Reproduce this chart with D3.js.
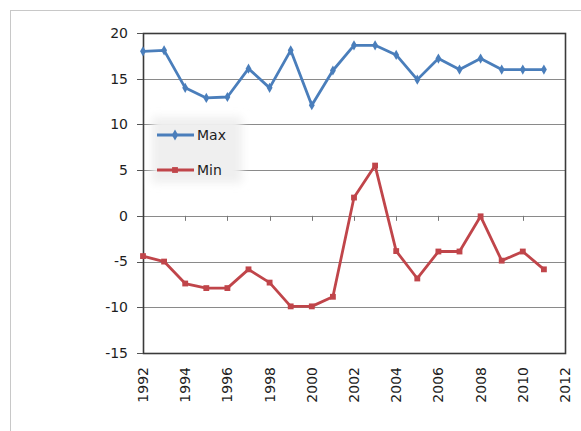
<!DOCTYPE html>
<meta charset="utf-8">
<style>
body { margin: 0; background: #fff; }
svg { display: block; }
.tick-label { font: 14px "DejaVu Sans", sans-serif; fill: #1e1e1e; }
.legend-label { font: 14px "DejaVu Sans", sans-serif; fill: #1e1e1e; }
</style>
<script src="https://cdn.jsdelivr.net/npm/d3@7"></script>
<body>
<svg width="581" height="431"></svg>
</body>
<script>

// data
var years = [1992, 1993, 1994, 1995, 1996, 1997, 1998, 1999, 2000, 2001,
             2002, 2003, 2004, 2005, 2006, 2007, 2008, 2009, 2010, 2011];
var maxValues = [18, 18.1, 14, 12.9, 13, 16.1, 14, 18.1, 12.1, 15.9,
                 18.65, 18.65, 17.6, 14.9, 17.2, 16, 17.2, 16, 16, 16];
var minValues = [-4.4, -5, -7.4, -7.9, -7.9, -5.85, -7.3, -9.9, -9.9, -8.85,
                 2, 5.5, -3.85, -6.85, -3.9, -3.9, -0.05, -4.9, -3.9, -5.85];
var xTicks = [1992, 1994, 1996, 1998, 2000, 2002, 2004, 2006, 2008, 2010, 2012];
var yTicks = [-15, -10, -5, 0, 5, 10, 15, 20];

var svg = d3.select("svg");

var plotLeft = 143, plotRight = 565, plotTop = 33, plotBottom = 353;

var x = d3.scaleLinear().domain([1992, 2012]).range([plotLeft, plotRight]);
var y = d3.scaleLinear().domain([-15, 20]).range([plotBottom, plotTop]);

// outer chart frame
svg.append("rect")
    .attr("x", 10.5).attr("y", 10.5)
    .attr("width", 600).attr("height", 440)
    .attr("fill", "#fff")
    .attr("stroke", "#c8c8c8");

// gridlines
svg.append("g").selectAll("line")
  .data(yTicks.filter(function(d) { return d > -15 && d < 20; }))
  .enter().append("line")
    .attr("x1", plotLeft).attr("x2", plotRight)
    .attr("y1", function(d) { return Math.round(y(d)) + 0.5; })
    .attr("y2", function(d) { return Math.round(y(d)) + 0.5; })
    .attr("stroke", "#8a8a8a")
    .attr("stroke-width", 1.2);

// plot border
svg.append("rect")
    .attr("x", plotLeft + 0.5).attr("y", Math.round(y(20)) + 0.5)
    .attr("width", plotRight - plotLeft).attr("height", Math.round(y(-15)) - Math.round(y(20)))
    .attr("fill", "none")
    .attr("stroke", "#3a3a3a")
    .attr("stroke-width", 1.6);

// y axis ticks + labels
var yAxis = svg.append("g");
yAxis.selectAll("line")
  .data(yTicks)
  .enter().append("line")
    .attr("x1", plotLeft - 6).attr("x2", plotLeft)
    .attr("y1", function(d) { return Math.round(y(d)) + 0.5; })
    .attr("y2", function(d) { return Math.round(y(d)) + 0.5; })
    .attr("stroke", "#555");
yAxis.selectAll("text")
  .data(yTicks)
  .enter().append("text")
    .attr("class", "tick-label")
    .attr("x", plotLeft - 15)
    .attr("y", function(d) { return y(d); })
    .attr("dy", "0.35em")
    .attr("text-anchor", "end")
    .text(function(d) { return d; });

// x axis ticks on the zero line
svg.append("g").selectAll("line")
  .data(xTicks.slice(1, -1))
  .enter().append("line")
    .attr("x1", function(d) { return Math.round(x(d)) + 0.5; })
    .attr("x2", function(d) { return Math.round(x(d)) + 0.5; })
    .attr("y1", y(0)).attr("y2", y(0) + 5)
    .attr("stroke", "#777");

// x labels, rotated, at the bottom
svg.append("g").selectAll("text")
  .data(xTicks)
  .enter().append("text")
    .attr("class", "tick-label")
    .attr("transform", function(d) { return "translate(" + x(d) + "," + (plotBottom + 14) + ") rotate(-90)"; })
    .attr("dy", "0.35em")
    .attr("text-anchor", "end")
    .text(function(d) { return d; });

// series
var line = d3.line()
    .x(function(d, i) { return x(years[i]); })
    .y(function(d) { return y(d); });

var series = [
  { name: "Max", values: maxValues, color: "#4a7ebb", marker: d3.symbolDiamond },
  { name: "Min", values: minValues, color: "#c0454a", marker: d3.symbolSquare }
];

series.forEach(function(s) {
  svg.append("path")
      .datum(s.values)
      .attr("fill", "none")
      .attr("stroke", s.color)
      .attr("stroke-width", 2.8)
      .attr("stroke-linejoin", "round")
      .attr("d", line);

  svg.append("g").selectAll("path")
    .data(s.values)
    .enter().append("path")
      .attr("transform", function(d, i) { return "translate(" + x(years[i]) + "," + y(d) + ")"; })
      .attr("d", d3.symbol().type(s.marker).size(s.name == "Max" ? 30 : 34))
      .attr("fill", s.color);
});

// legend with soft shaded background
var defs = svg.append("defs");
defs.append("filter")
    .attr("id", "soft")
    .attr("x", "-20%").attr("y", "-20%")
    .attr("width", "140%").attr("height", "140%")
  .append("feGaussianBlur")
    .attr("stdDeviation", 4);

var legend = svg.append("g");
legend.append("rect")
    .attr("x", 152).attr("y", 117)
    .attr("width", 90).attr("height", 66)
    .attr("fill", "#efefef")
    .attr("filter", "url(#soft)");

series.forEach(function(s, i) {
  var ly = 135 + i * 35;
  legend.append("line")
      .attr("x1", 157).attr("x2", 194)
      .attr("y1", ly).attr("y2", ly)
      .attr("stroke", s.color)
      .attr("stroke-width", 2.8);
  legend.append("path")
      .attr("transform", "translate(175," + ly + ")")
      .attr("d", d3.symbol().type(s.marker).size(34))
      .attr("fill", s.color);
  legend.append("text")
      .attr("class", "legend-label")
      .attr("x", 197)
      .attr("y", ly)
      .attr("dy", "0.35em")
      .text(s.name);
});

</script>
